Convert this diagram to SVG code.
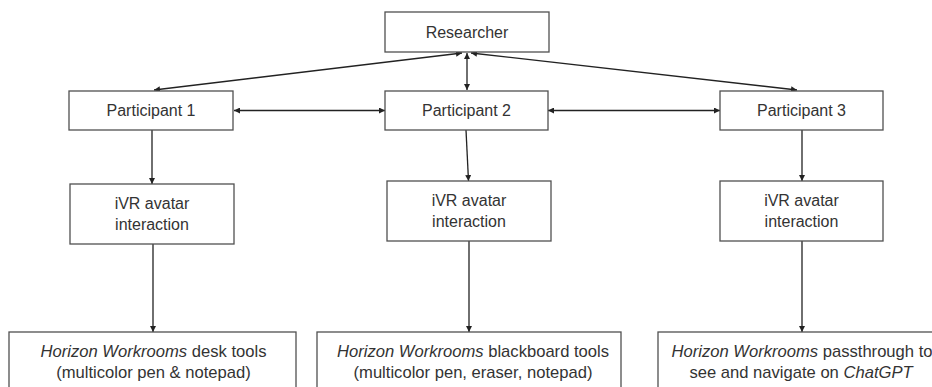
<svg xmlns="http://www.w3.org/2000/svg" width="932" height="387" viewBox="0 0 932 387">
  <defs>
    <marker id="head" viewBox="0 0 8 8" refX="8" refY="4" markerWidth="6" markerHeight="6" markerUnits="userSpaceOnUse" orient="auto-start-reverse">
      <path d="M0,0 L8,4 L0,8 Z" fill="#222"/>
    </marker>
    <style>
      .box { fill: #fff; stroke: #505050; stroke-width: 1.3; }
      .lbl { font-family: "Liberation Sans", Arial, sans-serif; font-size: 16px; fill: #333; text-anchor: middle; }
      .big { font-size: 16.6px; }
      .it { font-style: italic; }
      .edge { fill: none; stroke: #222; stroke-width: 1.3; }
      .one { marker-end: url(#head); }
      .two { marker-start: url(#head); marker-end: url(#head); }
    </style>
  </defs>
  <rect width="932" height="387" fill="#fff"/>

  <g id="connectors">
    <!-- researcher to participants -->
    <line class="edge two" x1="462" y1="53" x2="154" y2="90"/>
    <line class="edge two" x1="467" y1="53" x2="467" y2="90"/>
    <line class="edge two" x1="471" y1="53" x2="797" y2="90"/>
    <!-- between participants -->
    <line class="edge two" x1="234" y1="110.5" x2="385" y2="110.5"/>
    <line class="edge two" x1="548" y1="110.5" x2="720" y2="110.5"/>
    <!-- participants to avatar interaction -->
    <line class="edge one" x1="152" y1="130" x2="152" y2="184"/>
    <line class="edge one" x1="466" y1="130" x2="468.5" y2="181"/>
    <line class="edge one" x1="802" y1="130" x2="802" y2="181"/>
    <!-- avatar interaction to tools -->
    <line class="edge one" x1="153" y1="244" x2="153" y2="332"/>
    <line class="edge one" x1="469" y1="241" x2="469" y2="332"/>
    <line class="edge one" x1="802" y1="241" x2="802" y2="332"/>
  </g>

  <g id="researcher">
    <rect class="box" x="385" y="12" width="164" height="40"/>
    <text class="lbl" x="467" y="38">Researcher</text>
  </g>

  <g id="participant1">
    <rect class="box" x="69" y="91" width="164" height="39"/>
    <text class="lbl" x="151" y="116">Participant 1</text>
  </g>
  <g id="participant2">
    <rect class="box" x="385" y="91" width="163" height="39"/>
    <text class="lbl" x="466.5" y="116">Participant 2</text>
  </g>
  <g id="participant3">
    <rect class="box" x="720" y="91" width="163" height="39"/>
    <text class="lbl" x="801.5" y="116">Participant 3</text>
  </g>

  <g id="avatar1">
    <rect class="box" x="70" y="184" width="164" height="60"/>
    <text class="lbl" x="152" y="209">iVR avatar</text>
    <text class="lbl" x="152" y="230">interaction</text>
  </g>
  <g id="avatar2">
    <rect class="box" x="387" y="181" width="164" height="60"/>
    <text class="lbl" x="469" y="206">iVR avatar</text>
    <text class="lbl" x="469" y="227">interaction</text>
  </g>
  <g id="avatar3">
    <rect class="box" x="720" y="181" width="163" height="60"/>
    <text class="lbl" x="801.5" y="206">iVR avatar</text>
    <text class="lbl" x="801.5" y="227">interaction</text>
  </g>

  <g id="tools1">
    <rect class="box" x="9" y="332" width="287" height="70"/>
    <text class="lbl big" x="153.5" y="357"><tspan class="it">Horizon Workrooms</tspan> desk tools</text>
    <text class="lbl big" x="153.5" y="378">(multicolor pen &amp; notepad)</text>
  </g>
  <g id="tools2">
    <rect class="box" x="317" y="332" width="304" height="70"/>
    <text class="lbl big" x="473" y="357"><tspan class="it">Horizon Workrooms</tspan> blackboard tools</text>
    <text class="lbl big" x="473" y="378">(multicolor pen, eraser, notepad)</text>
  </g>
  <g id="tools3">
    <rect class="box" x="658" y="332" width="290" height="70"/>
    <text class="lbl big" x="802" y="357"><tspan class="it">Horizon Workrooms</tspan> passthrough to</text>
    <text class="lbl big" x="801" y="378">see and navigate on <tspan class="it">ChatGPT</tspan></text>
  </g>
</svg>
